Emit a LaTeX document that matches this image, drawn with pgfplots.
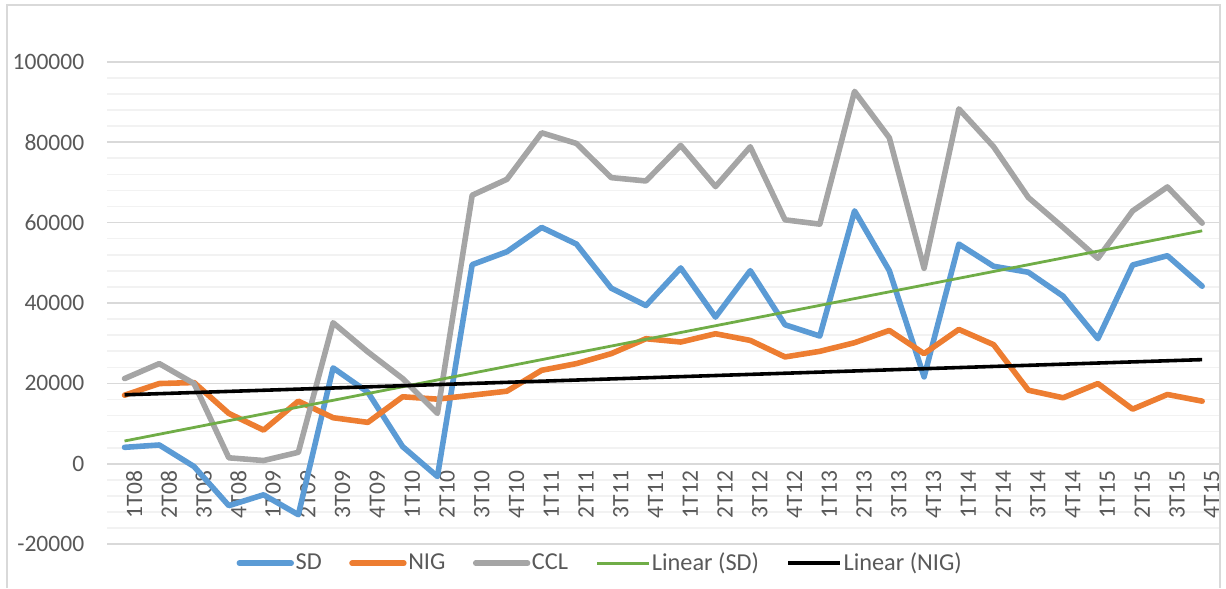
\documentclass[border=0pt]{standalone}
\usepackage{fontspec}
\setmainfont{Carlito}
\usepackage{pgfplots}
\pgfplotsset{compat=1.18}
\definecolor{sdblue}{HTML}{5B9BD5}
\definecolor{nigorange}{HTML}{ED7D31}
\definecolor{cclgray}{HTML}{A5A5A5}
\definecolor{lingreen}{HTML}{70AD47}
\definecolor{gridmaj}{HTML}{D9D9D9}
\definecolor{gridmin}{HTML}{F2F2F2}
\definecolor{txt}{HTML}{595959}
\begin{document}
\begin{tikzpicture}
\begin{axis}[
 name=ax, set layers,
 scale only axis, width=558bp, height=242bp,
 xmin=-0.5, xmax=31.5, ymin=-20000, ymax=100000,
 axis x line*=middle, axis y line*=left,
 axis line style={draw=none},
 tick style={draw=none},
 scaled y ticks=false,
 xtick={0,...,31},
 xticklabels={1T08,2T08,3T08,4T08,1T09,2T09,3T09,4T09,1T10,2T10,3T10,4T10,1T11,2T11,3T11,4T11,1T12,2T12,3T12,4T12,1T13,2T13,3T13,4T13,1T14,2T14,3T14,4T14,1T15,2T15,3T15,4T15},
 ytick={-20000,0,20000,40000,60000,80000,100000},
 yticklabels={-20000,0,20000,40000,60000,80000,100000},
 minor y tick num=4,
 ymajorgrids, yminorgrids,
 major grid style={gridmaj, line width=0.8bp},
 minor grid style={gridmin, line width=0.8bp},
 xticklabel style={rotate=90, anchor=east, yshift=-4.8bp, font=\fontsize{11.8bp}{14bp}\selectfont, text=txt},
 yticklabel style={anchor=east, xshift=-8bp, font=\fontsize{11.8bp}{14bp}\selectfont, text=txt},
 legend columns=5,
 legend style={at={(axis description cs:0.116,-0.0393)}, anchor=west, draw=none, fill=none, inner sep=0pt,
   font=\fontsize{12.2bp}{14bp}\selectfont, text=txt,
   /tikz/every even column/.append style={column sep=13bp},
   nodes={inner xsep=0.8bp, inner ysep=1bp}},
 legend image code/.code={\draw[#1] (0bp,0bp) -- (26bp,0bp);},
 every axis plot/.append style={line join=round, line cap=round},
]
\addplot[sdblue, line width=2.8bp] coordinates {
(0,4100) (1,4690) (2,-670) (3,-10400) (4,-7700) (5,-12660) (6,23860) (7,17800)
(8,4290) (9,-3150) (10,49540) (11,52760) (12,58800) (13,54660) (14,43690) (15,39380)
(16,48720) (17,36500) (18,48050) (19,34590) (20,31790) (21,62920) (22,48050) (23,21630)
(24,54660) (25,49140) (26,47650) (27,41700) (28,31120) (29,49460) (30,51770) (31,44180)};
\addlegendentry{SD}
\addplot[nigorange, line width=2.8bp] coordinates {
(0,17070) (1,19970) (2,20220) (3,12540) (4,8400) (5,15590) (6,11470) (7,10310)
(8,16680) (9,16090) (10,17080) (11,18070) (12,23270) (13,24930) (14,27410) (15,31120)
(16,30300) (17,32360) (18,30700) (19,26590) (20,27980) (21,30130) (22,33180) (23,27410)
(24,33430) (25,29640) (26,18310) (27,16430) (28,19970) (29,13600) (30,17250) (31,15590)};
\addlegendentry{NIG}
\addplot[cclgray, line width=2.8bp] coordinates {
(0,21200) (1,24930) (2,19970) (3,1500) (4,820) (5,2870) (6,35090) (7,27830)
(8,21210) (9,12540) (10,66810) (11,70770) (12,82340) (13,79690) (14,71190) (15,70360)
(16,79200) (17,68960) (18,78870) (19,60690) (20,59620) (21,92650) (22,81100) (23,48640)
(24,88290) (25,78870) (26,66240) (27,58800) (28,51120) (29,62920) (30,68870) (31,59870)};
\addlegendentry{CCL}
\addplot[lingreen, line width=1.4bp, line cap=butt] coordinates {(0,5680) (31,57960)};
\addlegendentry{Linear (SD)}
\addplot[black, line width=1.8bp, line cap=butt] coordinates {(0,17170) (31,25920)};
\addlegendentry{Linear (NIG)}
\end{axis}
\draw[gridmaj, line width=0.8bp] ([xshift=-50.25bp,yshift=-22bp]ax.south west) -- ([xshift=-50.25bp,yshift=28.5bp]ax.north west) -- ([xshift=0.25bp,yshift=28.5bp]ax.north east) -- ([xshift=0.25bp,yshift=-22bp]ax.south east);
\path[use as bounding box] ([xshift=-53.75bp,yshift=-22bp]ax.south west) rectangle ([xshift=1.25bp,yshift=31bp]ax.north east);
\end{tikzpicture}
\end{document}
